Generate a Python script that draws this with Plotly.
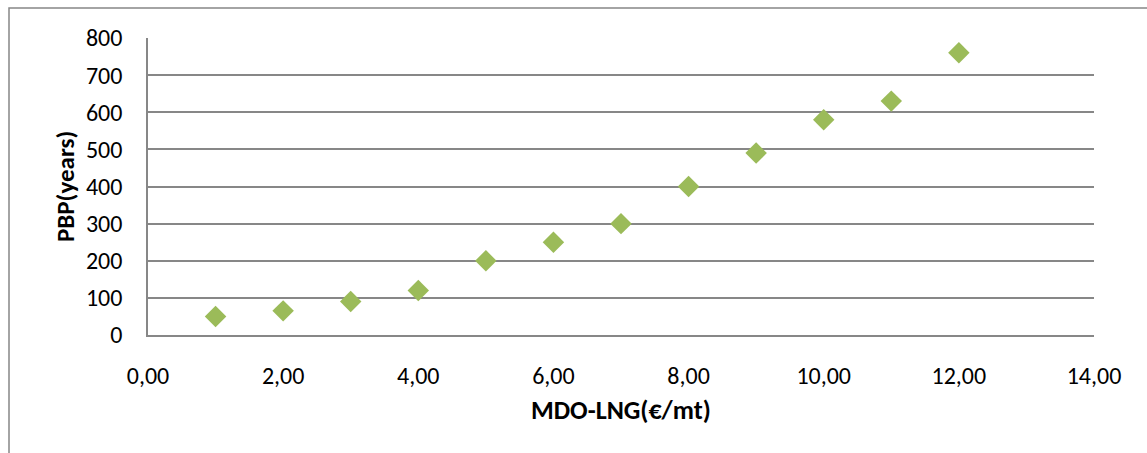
import plotly.graph_objects as go

x_vals = [1, 2, 3, 4, 5, 6, 7, 8, 9, 10, 11, 12]
pbp_years = [50, 65, 90, 120, 200, 250, 300, 400, 490, 580, 630, 760]
x_title = "MDO-LNG(€/mt)"
y_title = "PBP(years)"

W, H = 1147, 453
L, R, T, B = 148, 53, 38, 118
pw, ph = W - L - R, H - T - B

def px_x(p):
    return (p - L) / pw

def px_y(p):
    return (H - B - p) / ph

fig = go.Figure()
fig.add_trace(go.Scatter(
    x=x_vals, y=pbp_years, mode="markers",
    marker=dict(symbol="diamond", size=16.5, color="#9BBB59", line=dict(width=0)),
    showlegend=False, hoverinfo="x+y",
))

font_family = "Carlito, Lato, 'Open Sans', sans-serif"
fig.update_layout(
    width=W, height=H,
    margin=dict(l=L, r=R, t=T, b=B),
    paper_bgcolor="white", plot_bgcolor="white",
    separators=", ",
    font=dict(family=font_family, size=24, color="black"),
    xaxis=dict(range=[0, 14], dtick=2, tick0=0, tickformat=".2f",
               showgrid=False, zeroline=False, showline=True,
               linecolor="#878787", linewidth=1.5, ticks="",
               ticklabelstandoff=18, fixedrange=True),
    yaxis=dict(range=[0, 800], dtick=100, tick0=0,
               showgrid=True, gridcolor="#878787", gridwidth=1.5,
               zeroline=False, showline=True, linecolor="#878787", linewidth=1.5,
               ticks="", ticklabelstandoff=19, fixedrange=True),
    shapes=[dict(type="rect", xref="paper", yref="paper",
                 x0=px_x(9), x1=px_x(1160), y0=px_y(8), y1=px_y(470),
                 line=dict(color="#878787", width=1.5), layer="below")],
    annotations=[
        dict(text="<b>" + y_title + "</b>", xref="paper", yref="paper",
             x=px_x(65), y=px_y(187), textangle=-90, showarrow=False,
             font=dict(size=25), xanchor="center", yanchor="middle"),
        dict(text="<b>" + x_title + "</b>", xref="paper", yref="paper",
             x=px_x(621), y=px_y(410), showarrow=False,
             font=dict(size=26), xanchor="center", yanchor="middle"),
    ],
)

fig.write_html("out.html")
